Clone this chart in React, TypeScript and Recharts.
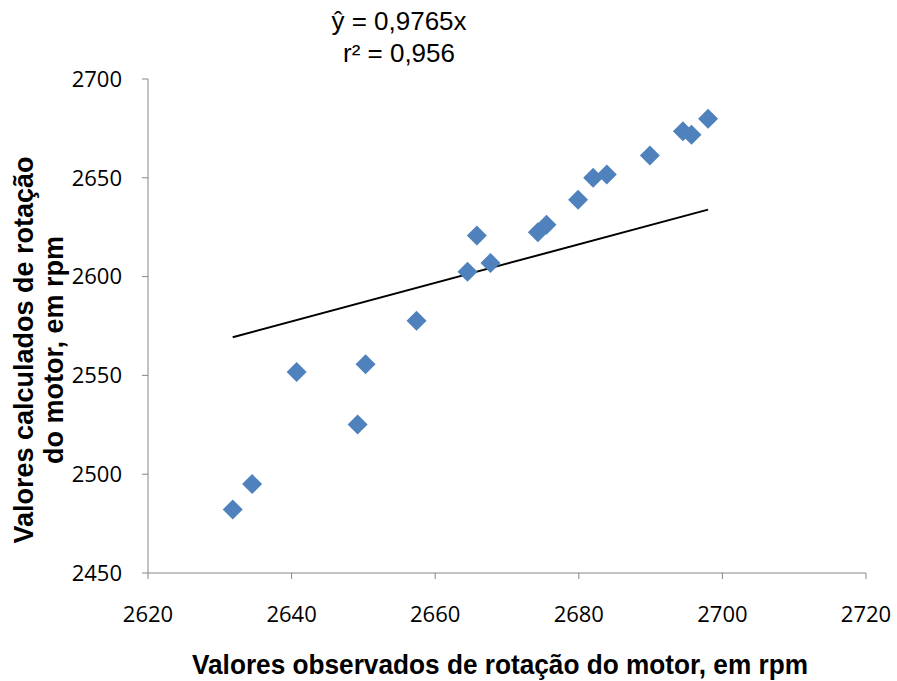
import React from "react";
import { ScatterChart, Scatter, XAxis, YAxis, ReferenceLine, Label } from "recharts";

// observed (x) vs calculated (y) engine speed, rpm
const observed = [
  2631.8, 2634.5, 2640.7, 2649.2, 2650.3, 2657.4, 2664.5, 2665.8, 2667.7,
  2674.3, 2675.5, 2679.9, 2682.0, 2683.9, 2689.9, 2694.5, 2695.7, 2698.0,
];
const calculated = [
  2482.1, 2495.0, 2551.7, 2525.2, 2555.6, 2577.7, 2602.5, 2620.8, 2606.9,
  2622.4, 2626.2, 2638.9, 2650.0, 2651.7, 2661.3, 2673.5, 2671.8, 2679.9,
];

// fitted line endpoints, y = 0.9765x
const trendX = [2631.8, 2698.0];
const trendY = [2569.3, 2633.9];

const xTicks = [2620, 2640, 2660, 2680, 2700, 2720];
const yTicks = [2450, 2500, 2550, 2600, 2650, 2700];

const equationLines = ["ŷ = 0,9765x", "r² = 0,956"];
const xTitle = "Valores observados de rotação do motor, em rpm";
const yTitleLines = ["Valores calculados de rotação", "do motor, em rpm"];

const points = observed.map((x, i) => ({ x, y: calculated[i] }));
const trend = trendX.map((x, i) => ({ x, y: trendY[i] }));

const AXIS = "#868686";
const MARKER = "#4F81BD";
const TICK_FONT = "'Open Sans', sans-serif";
const TITLE_FONT = "'Liberation Sans', Arial, sans-serif";

const Diamond = (props: any) => {
  const { cx, cy } = props;
  const r = 10;
  return (
    <polygon
      points={`${cx},${cy - r} ${cx + r},${cy} ${cx},${cy + r} ${cx - r},${cy}`}
      fill={MARKER}
    />
  );
};

const XTitle = (props: any) => {
  const { y } = props.viewBox;
  return (
    <text
      x={500}
      y={y + 101}
      textAnchor="middle"
      fontFamily={TITLE_FONT}
      fontWeight="bold"
      fontSize={28}
      textLength={616}
      lengthAdjust="spacingAndGlyphs"
      fill="#000"
    >
      {xTitle}
    </text>
  );
};

const YTitle = () => {
  const cy = 350;
  return (
    <g>
      {yTitleLines.map((line, i) => {
        const x = 33 + i * 30;
        return (
          <text
            key={line}
            x={x}
            y={cy}
            transform={`rotate(-90 ${x} ${cy})`}
            textAnchor="middle"
            fontFamily={TITLE_FONT}
            fontWeight="bold"
            fontSize={27}
            fill="#000"
          >
            {line}
          </text>
        );
      })}
    </g>
  );
};

export default function App() {
  return (
    <div style={{ position: "absolute", left: 0, top: 0, width: 897, height: 681, background: "#fff" }}>
      <ScatterChart width={897} height={681} margin={{ top: 79, right: 31, bottom: 0, left: 0 }}>
        <XAxis
          type="number"
          dataKey="x"
          domain={[2620, 2720]}
          ticks={xTicks}
          height={108}
          stroke={AXIS}
          tickSize={6}
          tickMargin={27}
          tick={{ fill: "#000", fontSize: 22, fontFamily: TICK_FONT }}
        >
          <Label content={XTitle} />
        </XAxis>
        <YAxis
          type="number"
          dataKey="y"
          domain={[2450, 2700]}
          ticks={yTicks}
          width={148}
          stroke={AXIS}
          tickSize={6}
          tickMargin={20}
          tick={{ fill: "#000", fontSize: 22, fontFamily: TICK_FONT }}
        >
          <Label content={YTitle} />
        </YAxis>
        <ReferenceLine
          segment={trend}
          stroke="#000"
          strokeWidth={2}
          ifOverflow="visible"
        />
        <Scatter data={points} shape={Diamond} isAnimationActive={false} />
      </ScatterChart>
      <svg width={897} height={80} style={{ position: "absolute", left: 0, top: 0 }}>
        {equationLines.map((line, i) => (
          <text
            key={line}
            x={399}
            y={30 + i * 32}
            textAnchor="middle"
            fontFamily={TITLE_FONT}
            fontSize={26}
            fill="#000"
          >
            {line}
          </text>
        ))}
      </svg>
    </div>
  );
}
